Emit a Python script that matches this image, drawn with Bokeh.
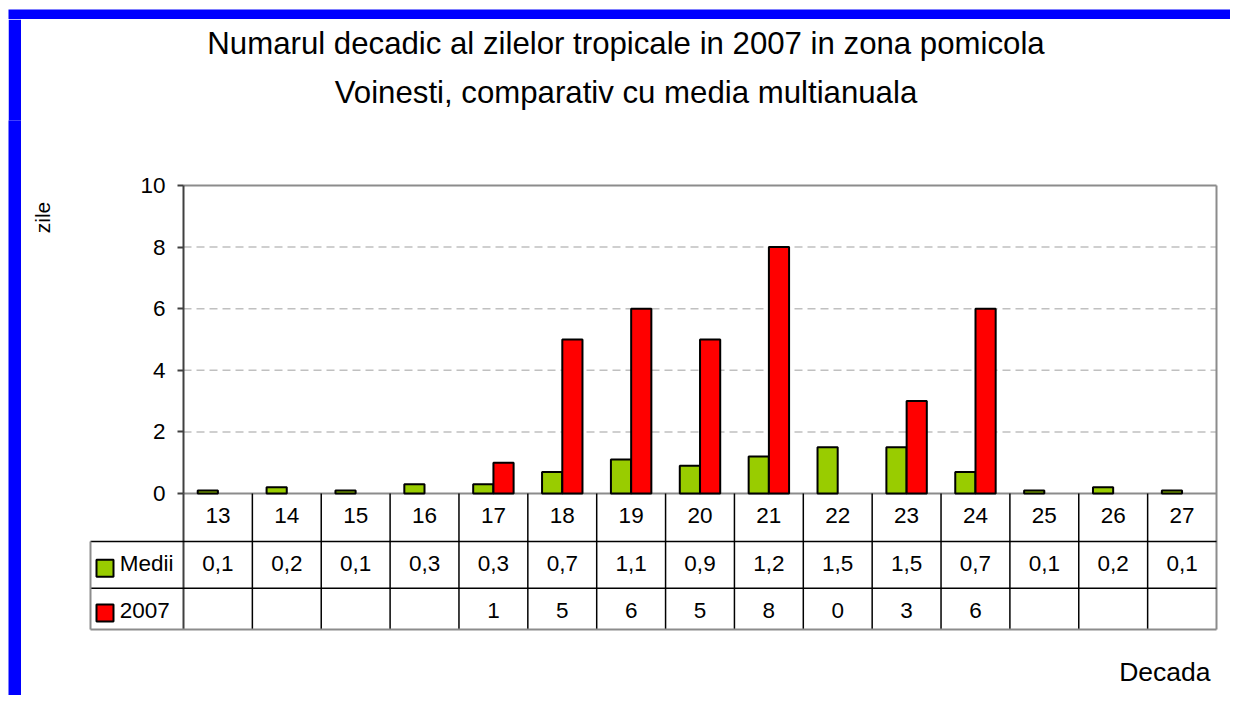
import math
import numpy as np
from bokeh.plotting import figure
from bokeh.models import ColumnDataSource, LinearAxis, FixedTicker, Range1d, Title, Label, Spacer
from bokeh.layouts import column, row
from bokeh.embed import file_html
from bokeh.resources import INLINE
from bokeh.core.properties import value

# ---------------- data ----------------
decades = ["13", "14", "15", "16", "17", "18", "19", "20", "21", "22", "23", "24", "25", "26", "27"]
medii = [0.1, 0.2, 0.1, 0.3, 0.3, 0.7, 1.1, 0.9, 1.2, 1.5, 1.5, 0.7, 0.1, 0.2, 0.1]
an_2007 = [None, None, None, None, 1, 5, 6, 5, 8, 0, 3, 6, None, None, None]
series_names = ["Medii", "2007"]
y_ticks = [0, 2, 4, 6, 8, 10]
title_lines = ["Numarul decadic al zilelor tropicale in 2007 in zona pomicola",
               "Voinesti, comparativ cu media multianuala"]
y_label = "zile"
x_label = "Decada"

# ---------------- style / layout ----------------
GREEN = "#99CC00"
RED = "#FF0000"
BLUE = "#0000FF"
FONT = "Liberation Sans"

MARGIN = 8
PAGE_X0, PAGE_Y0 = 21, 19          # top-left of main figure on page
FIG_W, FIG_H = 1209, 676
TOP_PANEL = 101
AX_X0, AX_X1 = 183, 1216           # plot area left/right (px)
AX_Y0, AX_YMAX = 493, 185          # y=0 and y=10 (px)

n = len(decades)
sx = (AX_X1 - AX_X0) / n
sy = (AX_Y0 - AX_YMAX) / y_ticks[-1]


def dx(px):
    return (px - AX_X0) / sx


def dy(py):
    return (AX_Y0 - py) / sy


x_range = Range1d(dx(PAGE_X0), dx(PAGE_X0 + FIG_W))
y_range = Range1d(dy(PAGE_Y0 + FIG_H), dy(PAGE_Y0 + TOP_PANEL))

p = figure(width=FIG_W, height=FIG_H, x_range=x_range, y_range=y_range,
           x_axis_type=None, y_axis_type=None, toolbar_location=None,
           output_backend="svg", min_border_left=0, min_border_right=0,
           min_border_bottom=0, min_border_top=TOP_PANEL,
           background_fill_color=None, border_fill_color="white",
           outline_line_color=None)

# titles (later added sits higher)
p.add_layout(Title(text=title_lines[1], align="center", text_font=FONT,
                   text_font_size="31.2px", text_font_style="normal",
                   text_color="black", standoff=22, offset=4), "above")
p.add_layout(Title(text=title_lines[0], align="center", text_font=FONT,
                   text_font_size="31.2px", text_font_style="normal",
                   text_color="black", standoff=1, offset=4), "above")

# y axis at x = 0
yaxis = LinearAxis(fixed_location=0, bounds=(y_ticks[0], y_ticks[-1]),
                   ticker=FixedTicker(ticks=y_ticks))
yaxis.axis_line_color = "#404040"
yaxis.axis_line_width = 2
yaxis.major_tick_line_color = "#404040"
yaxis.major_tick_line_width = 2
yaxis.major_tick_out = 6
yaxis.major_tick_in = 0
yaxis.minor_tick_line_color = None
yaxis.major_label_standoff = 12
yaxis.major_label_text_font = FONT
yaxis.major_label_text_font_size = "22.5px"
yaxis.major_label_text_color = "black"
p.add_layout(yaxis, "left")

# table geometry (data units)
row_lines = [dy(541), dy(587.7), dy(629)]
row_text = [dy(514.5), dy(563), dy(610)]
legend_left = dx(90)

# gridlines
grid_y = y_ticks[1:-1]
p.segment(x0=[0] * len(grid_y), x1=[n] * len(grid_y), y0=grid_y, y1=grid_y,
          line_color="#c0c0c0", line_width=1.5, line_dash="8 5")
# plot area border (top + right) and x axis line
p.segment(x0=[0, n], x1=[n, n], y0=[y_ticks[-1], y_ticks[-1]], y1=[y_ticks[-1], row_lines[2]],
          line_color="#8c8c8c", line_width=2)
p.segment(x0=[0], x1=[n], y0=[0], y1=[0], line_color="#8c8c8c", line_width=2)

# bars
pos = np.arange(n) + 0.5
bar_w = 0.293
off = 0.147
src = ColumnDataSource(dict(
    x_m=pos - off,
    x_r=pos + off,
    medii=medii,
    an=[v if v else np.nan for v in an_2007],
))
p.vbar(x="x_m", top="medii", bottom=0, width=bar_w, source=src,
       fill_color=GREEN, line_color="black", line_width=2)
p.vbar(x="x_r", top="an", bottom=0, width=bar_w, source=src,
       fill_color=RED, line_color="black", line_width=2)

# table lines
inner = list(range(1, n))
p.segment(x0=inner, x1=inner, y0=[0] * len(inner), y1=[row_lines[2]] * len(inner),
          line_color="black", line_width=1.5)
p.segment(x0=[0], x1=[0], y0=[0], y1=[row_lines[2]], line_color="#404040", line_width=2)
p.segment(x0=[legend_left, legend_left], x1=[n, n], y0=row_lines[:2], y1=row_lines[:2],
          line_color="black", line_width=1.5)
p.segment(x0=[legend_left], x1=[n], y0=[row_lines[2]], y1=[row_lines[2]],
          line_color="#8c8c8c", line_width=2)
p.segment(x0=[legend_left], x1=[legend_left], y0=[row_lines[0]], y1=[row_lines[2]],
          line_color="#8c8c8c", line_width=2)

# table texts
txt = dict(text_font=value(FONT), text_font_size="22.5px", text_color="black",
           text_align="center", text_baseline="middle")
p.text(x=pos, y=[row_text[0]] * n, text=decades, **txt)
p.text(x=pos, y=[row_text[1]] * n,
       text=[f"{v:.1f}".replace(".", ",") for v in medii], **txt)
p.text(x=pos, y=[row_text[2]] * n,
       text=["" if v is None else str(v) for v in an_2007], **txt)

# legend keys in table
key_x = dx(104.5)
p.rect(x=[key_x, key_x], y=[dy(567.8), dy(612.5)], width=17, height=17,
       width_units="screen", height_units="screen",
       fill_color=[GREEN, RED], line_color="black", line_width=2)
p.text(x=[dx(119.3)] * 2, y=[row_text[1], row_text[2]], text=series_names,
       text_font=value(FONT), text_font_size="22.5px", text_color="black",
       text_align="left", text_baseline="middle")

# axis labels
p.add_layout(Label(x=dx(42), y=dy(217), text=y_label, angle=math.pi / 2,
                   text_font=FONT, text_font_size="21px", text_color="black",
                   text_align="center", text_baseline="middle"))
p.add_layout(Label(x=dx(1210), y=dy(671), text=x_label,
                   text_font=FONT, text_font_size="26.5px", text_color="black",
                   text_align="right", text_baseline="alphabetic"))


def bar_fig(w, h):
    f = figure(width=w, height=h, x_axis_type=None, y_axis_type=None,
               toolbar_location=None, output_backend="svg", min_border=0,
               background_fill_color=BLUE, border_fill_color=BLUE,
               outline_line_color=None)
    return f


top_bar = bar_fig(FIG_W + 13, 11)
left_bar = bar_fig(13, FIG_H)

layout = column(Spacer(height=MARGIN, width=FIG_W + 13 + MARGIN),
                row(Spacer(width=MARGIN, height=FIG_H + 11),
                    column(top_bar, row(left_bar, p))))
open("out.html", "w").write(file_html(layout, INLINE))
